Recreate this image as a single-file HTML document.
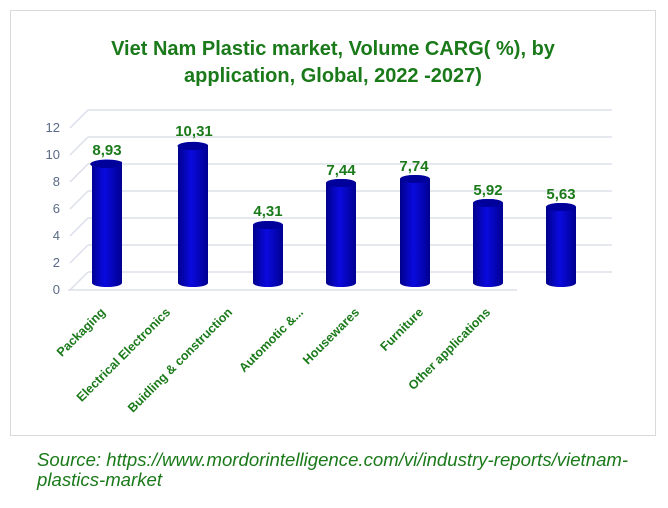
<!DOCTYPE html>
<html><head><style>
html,body{margin:0;padding:0;background:#fff;}
body{width:668px;height:508px;position:relative;overflow:hidden;font-family:"Liberation Sans",sans-serif;}
</style></head><body>
<svg width="668" height="508" style="position:absolute;left:0;top:0">
<defs>
<linearGradient id="g" x1="0" x2="1" y1="0" y2="0">
<stop offset="0" stop-color="#00008a"/><stop offset="0.45" stop-color="#0a0ae0"/><stop offset="1" stop-color="#000090"/>
</linearGradient>
</defs>
<rect x="10.5" y="10.5" width="645" height="425" fill="#fff" stroke="#d9d9d9"/>
<text x="333" y="55" text-anchor="middle" font-family="Liberation Sans" font-weight="bold" font-size="20" fill="#1a7a1a">Viet Nam Plastic market, Volume  CARG( %), by</text>
<text x="333" y="82" text-anchor="middle" font-family="Liberation Sans" font-weight="bold" font-size="20" fill="#1a7a1a">application, Global, 2022 -2027)</text>
<g stroke="#dde0ea" stroke-width="1.5" fill="none">
<path d="M88 272H612M88 245H612M88 218H612M88 191H612M88 164H612M88 137H612M88 110H612"/>
<path d="M70 290L88 272M70 263L88 245M70 236L88 218M70 209L88 191M70 182L88 164M70 155L88 137M70 128L88 110"/>
<path d="M68 290H517"/>
</g>
<g font-size="13" fill="#5a6a86" text-anchor="end" font-family="Liberation Sans">
<text x="60" y="294">0</text><text x="60" y="267">2</text><text x="60" y="240">4</text><text x="60" y="213">6</text><text x="60" y="186">8</text><text x="60" y="159">10</text><text x="60" y="132">12</text>
</g>
<g>
<path d="M92 283V166A15 4 0 0 1 122 162V283A15 4 0 0 1 92 283Z" fill="url(#g)"/><ellipse cx="107" cy="164" rx="15" ry="4" fill="#00009a"/>
<path d="M178 283V147A15 4 0 0 1 208 145V283A15 4 0 0 1 178 283Z" fill="url(#g)"/><ellipse cx="193" cy="146" rx="15" ry="4" fill="#00009a"/>
<path d="M253 283V225A15 4 0 0 1 283 225V283A15 4 0 0 1 253 283Z" fill="url(#g)"/><ellipse cx="268" cy="225" rx="15" ry="4" fill="#00009a"/>
<path d="M326 283V183A15 4 0 0 1 356 183V283A15 4 0 0 1 326 283Z" fill="url(#g)"/><ellipse cx="341" cy="183" rx="15" ry="4" fill="#00009a"/>
<path d="M400 283V179A15 4 0 0 1 430 179V283A15 4 0 0 1 400 283Z" fill="url(#g)"/><ellipse cx="415" cy="179" rx="15" ry="4" fill="#00009a"/>
<path d="M473 283V203A15 4 0 0 1 503 203V283A15 4 0 0 1 473 283Z" fill="url(#g)"/><ellipse cx="488" cy="203" rx="15" ry="4" fill="#00009a"/>
<path d="M546 283V207A15 4 0 0 1 576 207V283A15 4 0 0 1 546 283Z" fill="url(#g)"/><ellipse cx="561" cy="207" rx="15" ry="4" fill="#00009a"/>
</g>
<g font-size="15" font-weight="bold" fill="#1a7a1a" text-anchor="middle" font-family="Liberation Sans">
<text x="107" y="155">8,93</text>
<text x="194" y="136">10,31</text>
<text x="268" y="216">4,31</text>
<text x="341" y="175">7,44</text>
<text x="414" y="171">7,74</text>
<text x="488" y="195">5,92</text>
<text x="561" y="199">5,63</text>
</g>
<g font-size="12.5" font-weight="bold" fill="#1a7a1a" text-anchor="end" font-family="Liberation Sans">
<text transform="translate(106,313) rotate(-45)">Packaging</text>
<text transform="translate(171,313) rotate(-45)">Electrical Electronics</text>
<text transform="translate(233,313) rotate(-45)">Buidling &amp; construction</text>
<text transform="translate(304,313) rotate(-45)">Automotic &amp;...</text>
<text transform="translate(360,313) rotate(-45)">Housewares</text>
<text transform="translate(424,313) rotate(-45)">Furniture</text>
<text transform="translate(491,313) rotate(-45)">Other applications</text>
</g>
<text x="37" y="466" font-family="Liberation Sans" font-style="italic" font-size="18.6" fill="#1a7a1a">Source: https://www.mordorintelligence.com/vi/industry-reports/vietnam-</text>
<text x="37" y="486" font-family="Liberation Sans" font-style="italic" font-size="18.6" fill="#1a7a1a">plastics-market</text>
</svg>
</body></html>
